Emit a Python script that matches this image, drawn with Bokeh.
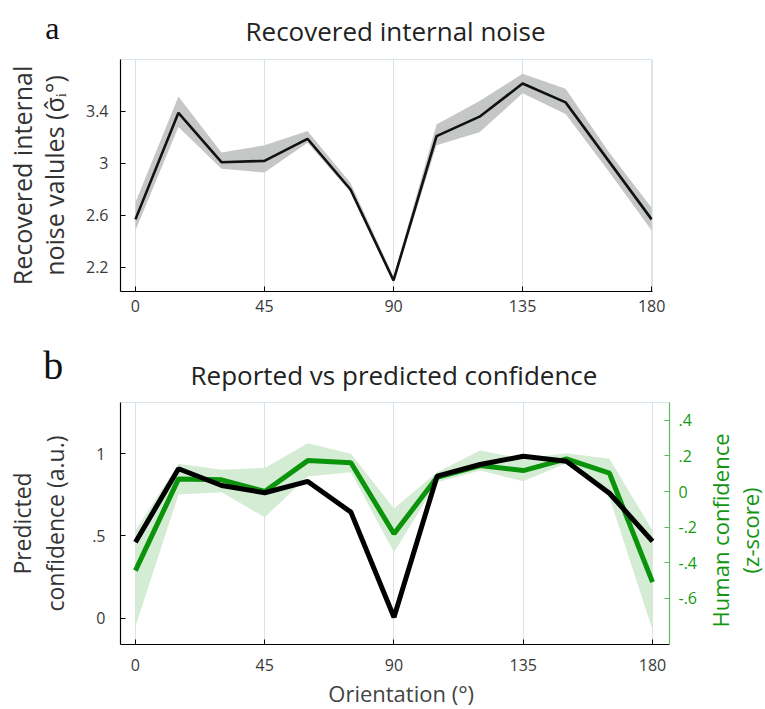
import math
from bokeh.plotting import figure
from bokeh.models import (Range1d, LinearAxis, FixedTicker, CustomJSTickFormatter)
from bokeh.core.properties import value
from bokeh.embed import file_html
from bokeh.resources import INLINE

# ---------------- data ----------------
orientation = [0, 15, 30, 45, 60, 75, 90, 105, 120, 135, 150, 165, 180]

noise_mean = [2.57, 3.39, 3.01, 3.02, 3.19, 2.80, 2.10, 3.21, 3.36, 3.615, 3.47, 3.02, 2.57]
noise_upper = [2.70, 3.515, 3.085, 3.14, 3.25, 2.85, 2.13, 3.30, 3.48, 3.69, 3.575, 3.09, 2.66]
noise_lower = [2.485, 3.28, 2.96, 2.93, 3.16, 2.78, 2.08, 3.14, 3.24, 3.54, 3.38, 2.94, 2.485]

predicted_conf = [0.462, 0.909, 0.807, 0.763, 0.832, 0.645, 0.006, 0.864, 0.935, 0.985, 0.955, 0.76, 0.467]
human_conf = [-0.445, 0.071, 0.066, 0.0, 0.174, 0.162, -0.238, 0.08, 0.146, 0.118, 0.184, 0.103, -0.51]
human_upper = [-0.22, 0.156, 0.122, 0.133, 0.272, 0.212, -0.096, 0.109, 0.231, 0.184, 0.216, 0.184, -0.22]
human_lower = [-0.76, -0.017, -0.004, -0.145, 0.084, 0.109, -0.342, 0.052, 0.118, 0.058, 0.159, -0.034, -0.78]

x_ticks = [0, 45, 90, 135, 180]
noise_ticks = [2.2, 2.6, 3.0, 3.4]
pred_ticks = [0, 0.5, 1.0]
human_ticks = [-0.6, -0.4, -0.2, 0, 0.2, 0.4]

FONT = "Open Sans"
fmt_code = """
var s = tick.toFixed(1);
s = s.replace(/\\.0$/, '');
s = s.replace(/^(-?)0\\./, '$1.');
return s;
"""


def style_axis(ax, line_color="black", label_color="#3a3a3a"):
    ax.major_tick_in = 5
    ax.major_tick_out = 0
    ax.minor_tick_line_color = None
    ax.axis_line_color = line_color
    ax.major_tick_line_color = line_color
    ax.axis_line_width = 1.2
    ax.major_label_text_font = FONT
    ax.major_label_text_font_size = "16px"
    ax.major_label_text_color = label_color
    ax.axis_label_text_font = FONT
    ax.axis_label_text_font_size = "23px"
    ax.axis_label_text_font_style = "normal"
    ax.axis_label_text_color = "#333333"


def style_title(t, offset):
    t.align = "left"
    t.offset = offset
    t.text_font = FONT
    t.text_font_size = "26px"
    t.text_font_style = "normal"
    t.text_color = "#222222"


# ---------------- panel a ----------------
p1 = figure(width=765, height=340, x_range=Range1d(-5.2, 180.3), y_range=Range1d(2.015, 3.8),
            output_backend="svg", toolbar_location=None,
            min_border_left=120, min_border_right=113, min_border_top=59, min_border_bottom=49,
            title="Recovered internal noise")
style_title(p1.title, 125)
p1.title.standoff = 21
p1.outline_line_color = "#d9e4ec"
p1.xgrid.ticker = FixedTicker(ticks=x_ticks)
p1.xgrid.grid_line_color = "#dde1e6"
p1.ygrid.visible = False

p1.varea(x=orientation, y1=noise_lower, y2=noise_upper, fill_color="#c5c7c6", fill_alpha=1.0)
p1.line(x=orientation, y=noise_mean, line_color="#111111", line_width=2.6)

style_axis(p1.xaxis[0])
p1.xaxis[0].ticker = FixedTicker(ticks=x_ticks)
p1.xaxis[0].major_label_standoff = 8
style_axis(p1.yaxis[0])
p1.yaxis[0].ticker = FixedTicker(ticks=noise_ticks)
p1.yaxis[0].formatter = CustomJSTickFormatter(code=fmt_code)
p1.yaxis[0].major_label_standoff = 12
p1.yaxis[0].axis_label = "Recovered internal\nnoise valules (\u03c3\u0302\u1d62\u00b0)"
p1.yaxis[0].axis_label_standoff = 12
p1.yaxis[0].axis_label_text_font_size = "25px"
p1.yaxis[0].axis_label_text_line_height = 0.95

# panel letter "a" (overlay level so it may sit outside the frame)
p1.text(x=[-31.4], y=[4.046], text=["a"], text_font=value("Liberation Serif"),
        text_font_size="32px", text_font_style="normal", text_color="#111111",
        text_baseline="alphabetic", text_align="left", level="overlay")

# ---------------- panel b ----------------
p2 = figure(width=765, height=369, x_range=Range1d(-5.2, 185.9), y_range=Range1d(-0.16, 1.312),
            output_backend="svg", toolbar_location=None,
            min_border_left=120, min_border_right=96, min_border_top=62, min_border_bottom=65,
            title="Reported vs predicted confidence")
style_title(p2.title, 70)
p2.title.standoff = 20
p2.outline_line_color = "#d9e4ec"
p2.xgrid.ticker = FixedTicker(ticks=x_ticks)
p2.xgrid.grid_line_color = "#dde1e6"
p2.ygrid.visible = False

p2.extra_y_ranges = {"z": Range1d(-0.861, 0.501)}
zaxis = LinearAxis(y_range_name="z")
p2.add_layout(zaxis, "right")

p2.varea(x=orientation, y1=human_lower, y2=human_upper, fill_color="#d4ecd4", fill_alpha=1.0,
         y_range_name="z")
p2.line(x=orientation, y=human_conf, line_color="#0b930b", line_width=5, y_range_name="z")
p2.line(x=orientation, y=predicted_conf, line_color="#000000", line_width=5)

style_axis(p2.xaxis[0])
p2.xaxis[0].ticker = FixedTicker(ticks=x_ticks)
p2.xaxis[0].major_label_standoff = 14

style_axis(p2.yaxis[0])
p2.yaxis[0].ticker = FixedTicker(ticks=pred_ticks)
p2.yaxis[0].formatter = CustomJSTickFormatter(code=fmt_code)
p2.yaxis[0].major_label_standoff = 15
p2.yaxis[0].axis_label = "Predicted\nconfidence (a.u.)"
p2.yaxis[0].axis_label_standoff = 18
p2.yaxis[0].axis_label_text_line_height = 1.05

style_axis(zaxis, line_color="#5cbb5c", label_color="#149a14")
zaxis.ticker = FixedTicker(ticks=human_ticks)
zaxis.formatter = CustomJSTickFormatter(code=fmt_code)
zaxis.major_label_standoff = 9

# x-axis title
p2.text(x=[92.5], y=[-0.452], text=["Orientation (\u00b0)"],
        text_font=value(FONT), text_font_size="22px", text_color="#444444",
        text_align="center", text_baseline="middle", level="overlay")

# right-hand axis title, reading bottom-to-top as in the reference
p2.text(x=[208.6], y=[-0.219], text=["Human confidence\n(z-score)"], y_range_name="z",
        text_font=value(FONT), text_font_size="22px", text_color="#129612",
        text_align="center", text_baseline="middle", text_line_height=1.0,
        angle=math.pi / 2, level="overlay")

# panel letter "b"
p2.text(x=[-32.1], y=[1.537], text=["b"], text_font=value("Liberation Serif"),
        text_font_size="40px", text_font_style="normal", text_color="#111111",
        text_baseline="alphabetic", text_align="left", level="overlay")

open("out.html", "w").write(file_html([p1, p2], INLINE))
